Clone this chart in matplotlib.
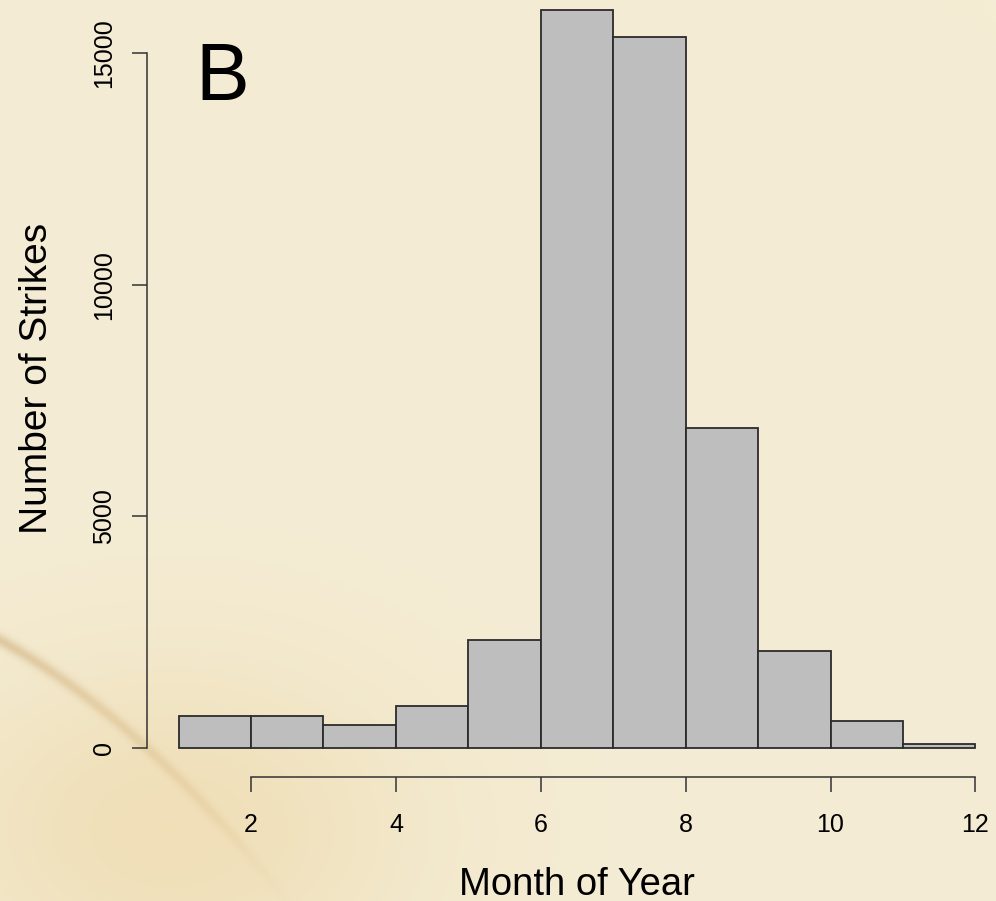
import numpy as np
import matplotlib
matplotlib.use("Agg")
import matplotlib.pyplot as plt

plt.rcParams['font.family'] = ['Liberation Sans', 'DejaVu Sans']

# ── data: strikes per month (histogram, bin width 1) ─────────
bin_edges = [1, 2, 3, 4, 5, 6, 7, 8, 9, 10, 11, 12]
counts    = [690, 690, 483, 893, 2324, 15943, 15345, 6900, 2087, 570, 80]
x_ticks   = [2, 4, 6, 8, 10, 12]
y_ticks   = [0, 5000, 10000, 15000]

W, H = 996, 901
fig = plt.figure(figsize=(W / 100, H / 100), dpi=100)

# ── parchment-like background (smooth, deterministic) ────────
bg = fig.add_axes([0, 0, 1, 1], zorder=-10)
yy, xx = np.mgrid[0:H, 0:W].astype(float)
base = np.array([244, 236, 212]) / 255.0
img = np.ones((H, W, 3)) * base
# warm tint toward bottom-left
warm = np.exp(-(((xx - 170) / 240) ** 2 + ((yy - 830) / 170) ** 2))
img -= warm[..., None] * np.array([0.015, 0.05, 0.11])
# brown streak curving down from the left edge
curve = 640 + 0.55 * xx + 0.00125 * xx ** 2
d = np.abs(yy - curve) / np.sqrt(1 + (0.55 + 0.0025 * xx) ** 2)
fade = np.clip(1 - xx / 300, 0, 1)
streak = np.exp(-(d / 6) ** 2) * fade
img -= streak[..., None] * np.array([0.08, 0.13, 0.18])
bg.imshow(np.clip(img, 0, 1), aspect='auto', extent=[0, 1, 0, 1])
bg.set_axis_off()

# ── main axes (R style) ──────────────────────────────────────
left, right = 146.7, 1007.3
bottom, top = 777.2, -20.0
ax = fig.add_axes([left / W, (H - bottom) / H,
                   (right - left) / W, (bottom - top) / H])
ax.patch.set_alpha(0)

widths = np.diff(bin_edges)
ax.bar(bin_edges[:-1], counts, width=widths, align='edge',
       color='#bebebe', edgecolor='#2b2b2b', linewidth=1.3)

ymax = max(counts)
ax.set_xlim(1 - 0.04 * 11, 12 + 0.04 * 11)
ax.set_ylim(-0.04 * ymax, 1.04 * ymax)

for s in ['top', 'right']:
    ax.spines[s].set_visible(False)
ax.spines['left'].set_bounds(0, 15000)
ax.spines['bottom'].set_bounds(2, 12)
for s in ['left', 'bottom']:
    ax.spines[s].set_linewidth(1.1)
    ax.spines[s].set_color('#333333')

ax.set_xticks(x_ticks)
ax.set_xticklabels([str(t) for t in x_ticks], fontsize=18)
ax.set_yticks(y_ticks)
ax.set_yticklabels([str(t) for t in y_ticks], fontsize=18,
                   rotation=90, va='center')
ax.tick_params(axis='both', direction='out', length=11, width=1.1,
               color='#333333')
ax.tick_params(axis='x', pad=15)
ax.tick_params(axis='y', pad=11)

fig.text(577 / W, (H - 895) / H, 'Month of Year', fontsize=27.5,
         ha='center', va='baseline')
fig.text(37 / W, (H - 378) / H, 'Number of Strikes', fontsize=28,
         rotation=90, ha='center', va='center')
fig.text(195 / W, (H - 100) / H, 'B', fontsize=58,
         ha='left', va='baseline')

fig.savefig('out.png', dpi=100)
